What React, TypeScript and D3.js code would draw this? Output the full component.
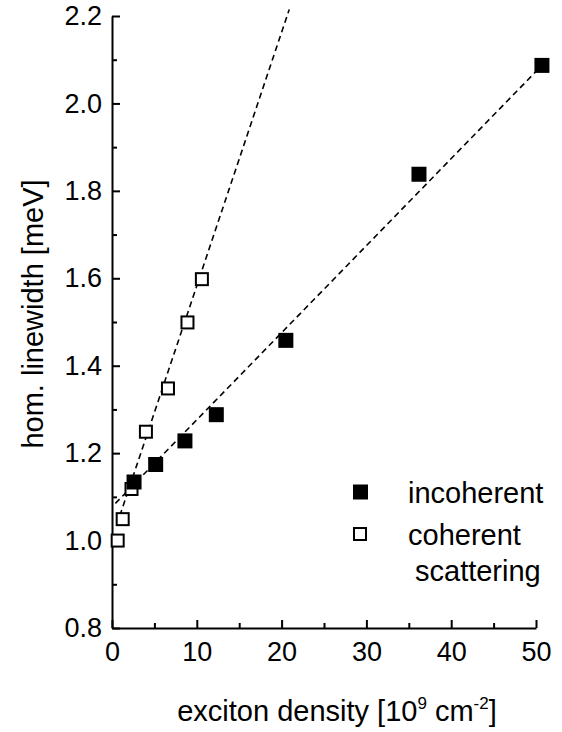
import { useEffect, useRef } from "react";
import * as d3 from "d3";

// values
const incoherentX = [2.6, 5.15, 8.6, 12.3, 20.5, 36.2, 50.7];
const incoherentY = [1.134, 1.174, 1.228, 1.288, 1.458, 1.838, 2.087];
const coherentX = [0.67, 1.26, 2.3, 4.0, 6.6, 8.9, 10.6];
const coherentY = [1.0, 1.049, 1.118, 1.249, 1.348, 1.499, 1.598];

// dashed linear fits (end points)
const incoherentFitX = [0.4, 50.7];
const incoherentFitY = [1.085, 2.087];
const coherentFitX = [0.55, 20.9];
const coherentFitY = [1.035, 2.215];

const xTicks = [0, 10, 20, 30, 40, 50];
const xMinor = [5, 15, 25, 35, 45];
const yTicks = [0.8, 1.0, 1.2, 1.4, 1.6, 1.8, 2.0, 2.2];
const yMinor = [0.9, 1.1, 1.3, 1.5, 1.7, 1.9, 2.1];

const legendItems = [
  { label: "incoherent", filled: true },
  { label: "coherent", filled: false },
];

const W = 562;
const H = 732;
const FONT = "'Liberation Sans', Arial, Helvetica, sans-serif";

export default function App() {
  const svgRef = useRef<SVGSVGElement>(null);

  useEffect(() => {
    if (!svgRef.current) return;
    const svg = d3.select(svgRef.current);
    svg.selectAll("*").remove();

    const x = d3.scaleLinear().domain([0, 50]).range([112, 536]);
    const y = d3.scaleLinear().domain([0.8, 2.2]).range([628, 16]);

    const g = svg.append("g");

    // --- axes ---
    const yAxis = g.append("g").attr("transform", `translate(${x(0)},0)`)
      .call(d3.axisLeft(y).tickValues(yTicks).tickSize(-8).tickSizeOuter(0).tickPadding(10)
        .tickFormat((d) => d3.format(".1f")(d as number)));
    g.append("g").attr("transform", `translate(${x(0)},0)`)
      .call(d3.axisLeft(y).tickValues(yMinor).tickSize(-5).tickFormat(() => ""))
      .call((s) => s.select(".domain").remove());

    const xAxis = g.append("g").attr("transform", `translate(0,${y(0.8)})`)
      .call(d3.axisBottom(x).tickValues(xTicks).tickSize(-8).tickSizeOuter(0).tickPadding(14));
    g.append("g").attr("transform", `translate(0,${y(0.8)})`)
      .call(d3.axisBottom(x).tickValues(xMinor).tickSize(-5).tickFormat(() => ""))
      .call((s) => s.select(".domain").remove());

    g.selectAll(".domain").attr("stroke", "#000").attr("stroke-width", 2);
    g.selectAll(".tick line").attr("stroke", "#000").attr("stroke-width", 2);
    yAxis.selectAll(".tick text").attr("font-size", 27).attr("font-family", FONT).attr("fill", "#000");
    xAxis.selectAll(".tick text").attr("font-size", 27).attr("font-family", FONT).attr("fill", "#000");

    // --- fit lines ---
    const drawFit = (xs: number[], ys: number[]) => {
      const pts = xs.map((v, i) => [x(v), y(ys[i])] as [number, number]);
      g.append("path")
        .attr("d", d3.line()(pts))
        .attr("fill", "none")
        .attr("stroke", "#000")
        .attr("stroke-width", 1.6)
        .attr("stroke-dasharray", "6,4");
    };
    drawFit(incoherentFitX, incoherentFitY);
    drawFit(coherentFitX, coherentFitY);

    // --- markers ---
    g.selectAll(".open").data(coherentX).enter().append("rect")
      .attr("x", (d) => x(d) - 6)
      .attr("y", (_, i) => y(coherentY[i]) - 6)
      .attr("width", 12).attr("height", 12)
      .attr("fill", "#fff").attr("stroke", "#000").attr("stroke-width", 2);

    g.selectAll(".filled").data(incoherentX).enter().append("rect")
      .attr("x", (d) => x(d) - 7.5)
      .attr("y", (_, i) => y(incoherentY[i]) - 7.5)
      .attr("width", 15).attr("height", 15)
      .attr("fill", "#000");

    // --- legend ---
    const lg = g.append("g").attr("font-family", FONT).attr("font-size", 29);
    legendItems.forEach((item, i) => {
      const cy = 492 + i * 42;
      if (item.filled) {
        lg.append("rect").attr("x", 353).attr("y", cy - 7.5).attr("width", 15).attr("height", 15).attr("fill", "#000");
      } else {
        lg.append("rect").attr("x", 354).attr("y", cy - 6).attr("width", 12).attr("height", 12)
          .attr("fill", "#fff").attr("stroke", "#000").attr("stroke-width", 2);
      }
      lg.append("text").attr("x", 408).attr("y", cy + 11).text(item.label);
    });
    lg.append("text").attr("x", 415).attr("y", 581).text("scattering");

    // --- axis titles ---
    const xt = g.append("text")
      .attr("x", 337).attr("y", 721)
      .attr("text-anchor", "middle")
      .attr("font-family", FONT).attr("font-size", 29);
    xt.append("tspan").text("exciton density [10");
    xt.append("tspan").attr("dy", -12).attr("font-size", 17).text("9");
    xt.append("tspan").attr("dy", 12).text(" cm");
    xt.append("tspan").attr("dy", -12).attr("font-size", 17).text("-2");
    xt.append("tspan").attr("dy", 12).text("]");

    g.append("text")
      .attr("transform", `translate(43,314) rotate(-90)`)
      .attr("text-anchor", "middle")
      .attr("font-family", FONT).attr("font-size", 29)
      .text("hom. linewidth [meV]");
  }, []);

  return (
    <svg
      ref={svgRef}
      width={W}
      height={H}
      style={{ position: "absolute", left: 0, top: 0, background: "#fff" }}
    />
  );
}
